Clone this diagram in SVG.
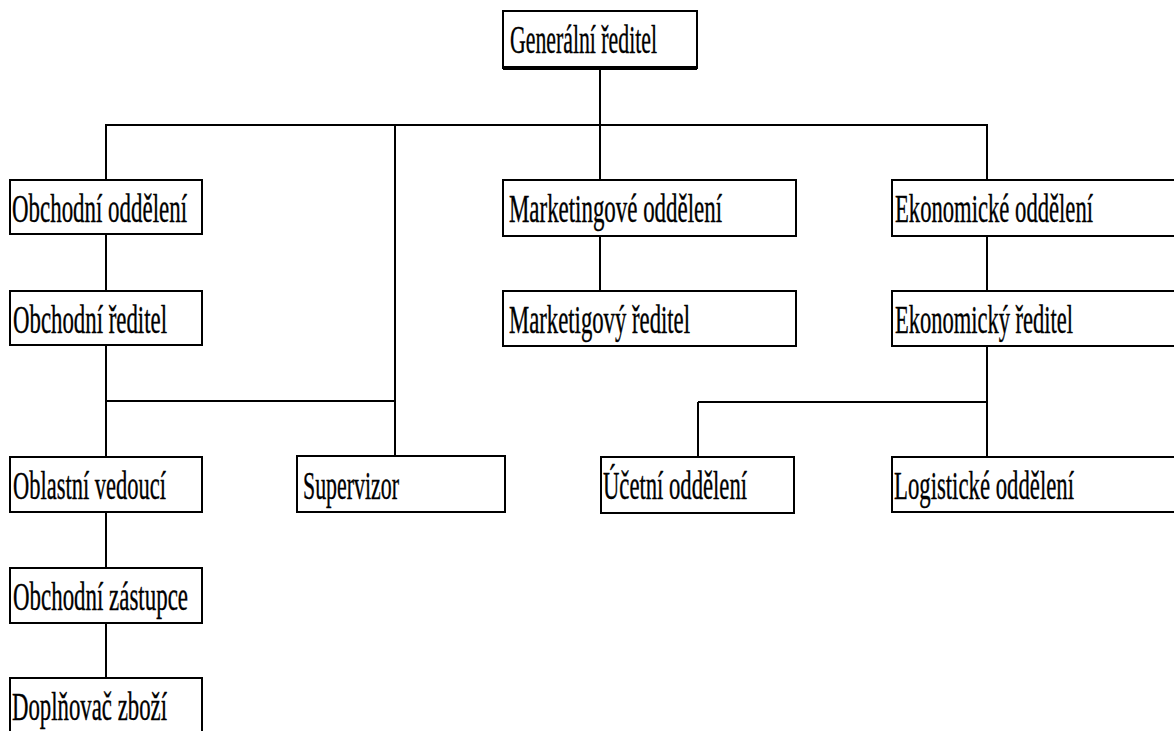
<svg xmlns="http://www.w3.org/2000/svg" width="1174" height="731" viewBox="0 0 1174 731">
<style>
.box{fill:#fff;stroke:#000;stroke-width:2}
.t{font-family:"Liberation Serif","Times New Roman",serif;font-size:41px;fill:#000;stroke:#000;stroke-width:0.4}
.c{stroke:#000;stroke-width:2;fill:none}
</style>
<rect width="1174" height="731" fill="#fff"/>
<g id="connectors">
<path class="c" d="M600 68V125M105 125H988M106 125V180M106 234V291M106 345V457M106 512V568M106 623V678M106 401H395M395 125V456M600 125V180M600 236V291M987 125V180M987 236V291M987 346V457M698 402H987M698 402V457"/>
</g>
<g id="n-generalni"><rect class="box" x="503" y="11" width="194" height="57"/><line x1="503" y1="68" x2="697" y2="68" stroke="#000" stroke-width="4"/><text class="t" x="510" y="53" textLength="147" lengthAdjust="spacingAndGlyphs">Generální ředitel</text></g>
<g id="n-obch-odd"><rect class="box" x="10" y="180" width="192" height="54"/><text class="t" x="12" y="222" textLength="175" lengthAdjust="spacingAndGlyphs">Obchodní oddělení</text></g>
<g id="n-mark-odd"><rect class="box" x="503" y="180" width="293" height="56"/><text class="t" x="509" y="222" textLength="213" lengthAdjust="spacingAndGlyphs">Marketingové oddělení</text></g>
<g id="n-ekon-odd"><path class="box" d="M1174 180H892V236H1174"/><text class="t" x="895" y="222" textLength="198" lengthAdjust="spacingAndGlyphs">Ekonomické oddělení</text></g>
<g id="n-obch-red"><rect class="box" x="10" y="291" width="192" height="54"/><text class="t" x="13" y="333" textLength="154" lengthAdjust="spacingAndGlyphs">Obchodní ředitel</text></g>
<g id="n-mark-red"><rect class="box" x="503" y="291" width="293" height="55"/><text class="t" x="509" y="333" textLength="181" lengthAdjust="spacingAndGlyphs">Marketigový ředitel</text></g>
<g id="n-ekon-red"><path class="box" d="M1174 291H892V346H1174"/><text class="t" x="895" y="333" textLength="178" lengthAdjust="spacingAndGlyphs">Ekonomický ředitel</text></g>
<g id="n-oblastni"><rect class="box" x="10" y="457" width="192" height="55"/><text class="t" x="13" y="499" textLength="153" lengthAdjust="spacingAndGlyphs">Oblastní vedoucí</text></g>
<g id="n-supervizor"><rect class="box" x="297" y="456" width="208" height="56"/><text class="t" x="303" y="499" textLength="96" lengthAdjust="spacingAndGlyphs">Supervizor</text></g>
<g id="n-ucetni"><rect class="box" x="601" y="457" width="193" height="56"/><text class="t" x="603" y="499" textLength="144" lengthAdjust="spacingAndGlyphs">Účetní oddělení</text></g>
<g id="n-logist"><path class="box" d="M1174 457H892V512H1174"/><text class="t" x="894" y="499" textLength="180" lengthAdjust="spacingAndGlyphs">Logistické oddělení</text></g>
<g id="n-zastupce"><rect class="box" x="10" y="568" width="192" height="55"/><text class="t" x="13" y="610" textLength="175" lengthAdjust="spacingAndGlyphs">Obchodní zástupce</text></g>
<g id="n-doplnovac"><path class="box" d="M10 733V678H202V733"/><text class="t" x="12" y="720" textLength="155" lengthAdjust="spacingAndGlyphs">Doplňovač zboží</text></g>
</svg>
